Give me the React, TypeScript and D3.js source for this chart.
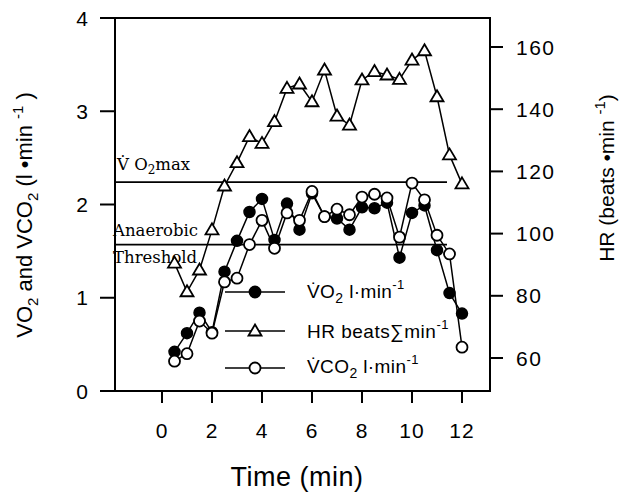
import React from 'react';
import * as d3 from 'd3';

const time = [0.5, 1, 1.5, 2, 2.5, 3, 3.5, 4, 4.5, 5, 5.5, 6, 6.5, 7, 7.5, 8, 8.5, 9, 9.5, 10, 10.5, 11, 11.5, 12];
const vo2 = [0.42, 0.62, 0.84, 0.63, 1.28, 1.61, 1.92, 2.06, 1.62, 2.01, 1.73, 2.12, 1.87, 1.85, 1.73, 1.97, 1.96, 2.02, 1.43, 1.91, 1.99, 1.51, 1.05, 0.83];
const vco2 = [0.32, 0.40, 0.75, 0.62, 1.17, 1.21, 1.57, 1.83, 1.53, 1.91, 1.83, 2.14, 1.87, 1.95, 1.89, 2.08, 2.11, 2.07, 1.65, 2.23, 2.05, 1.67, 1.47, 0.47];
const hr = [90.5, 81.3, 88.3, 101.2, 115.3, 122.8, 131.2, 129, 136, 146.7, 148.1, 142.4, 152.6, 137.8, 134.9, 149.4, 152.1, 151, 149.6, 155.8, 158.8, 144, 125.3, 116];

const xTicks = [0, 2, 4, 6, 8, 10, 12];
const leftTicks = [0, 1, 2, 3, 4];
const rightTicks = [60, 80, 100, 120, 140, 160];

const vo2max = 2.24;
const threshold = 1.57;
const refLineEnd = 11.4;

const sans = '"Liberation Sans", Arial, Helvetica, sans-serif';
const serif = '"DejaVu Serif", "Liberation Serif", serif';

const App = () => {
  // plot frame
  const frame = {left: 115, right: 490, top: 18, bottom: 391};

  const x = d3.scaleLinear().domain([0, 12]).range([162, 462]);
  const yL = d3.scaleLinear().domain([0, 4]).range([391, 18]);
  const yR = d3.scaleLinear().domain([60, 160]).range([358, 47]);

  const lineL = (vals: number[]) => d3.line<number>()
    .x((_, i) => x(time[i]))
    .y(d => yL(d))(vals) as string;
  const hrLine = d3.line<number>()
    .x((_, i) => x(time[i]))
    .y(d => yR(d))(hr) as string;

  const tri = 'M0,-6.5L6.5,4.5L-6.5,4.5Z';
  const r = 5.5;

  const legendRows = [
    {y: 292, kind: 'filled'},
    {y: 331, kind: 'tri'},
    {y: 368, kind: 'open'},
  ];

  return (
    <svg width={619} height={495} style={{position: 'absolute', left: 0, top: 0, background: '#fff'}}>
      {/* frame */}
      <rect x={frame.left} y={frame.top} width={frame.right - frame.left} height={frame.bottom - frame.top}
        fill="none" stroke="#000" strokeWidth={2} />

      {/* left axis */}
      {leftTicks.map(t => (
        <g key={'l' + t}>
          <line x1={100} x2={frame.left} y1={yL(t)} y2={yL(t)} stroke="#000" strokeWidth={2} />
          <text x={89} y={yL(t)} dy="0.36em" textAnchor="end" fontFamily={sans} fontSize={21} letterSpacing={1}>{t}</text>
        </g>
      ))}

      {/* right axis */}
      {rightTicks.map(t => (
        <g key={'r' + t}>
          <line x1={frame.right} x2={503} y1={yR(t)} y2={yR(t)} stroke="#000" strokeWidth={2} />
          <text x={516} y={yR(t)} dy="0.36em" textAnchor="start" fontFamily={sans} fontSize={21} letterSpacing={1.5}>{t}</text>
        </g>
      ))}

      {/* x axis */}
      {xTicks.map(t => (
        <g key={'x' + t}>
          <line x1={x(t)} x2={x(t)} y1={frame.bottom} y2={403} stroke="#000" strokeWidth={2} />
          <text x={x(t)} y={438} textAnchor="middle" fontFamily={sans} fontSize={21} letterSpacing={1}>{t}</text>
        </g>
      ))}

      <text x={297} y={486} textAnchor="middle" fontFamily={sans} fontSize={27} letterSpacing={0.5}>Time (min)</text>

      {/* axis titles */}
      <text transform="translate(32,215) rotate(-90)" textAnchor="middle" fontFamily={sans} fontSize={22}>
        VO<tspan fontSize={15} dy={6}>2</tspan><tspan dy={-6}> and VCO</tspan><tspan fontSize={15} dy={6}>2</tspan>
        <tspan dy={-6}> (l •min </tspan><tspan fontSize={15} dy={-9}>-1</tspan><tspan dy={9}> )</tspan>
      </text>
      <text transform="translate(614,178) rotate(-90)" textAnchor="middle" fontFamily={sans} fontSize={21}>
        HR (beats •min <tspan fontSize={15} dy={-9}>-1</tspan><tspan dy={9}>)</tspan>
      </text>

      {/* reference lines */}
      <line x1={frame.left} x2={x(refLineEnd)} y1={yL(vo2max)} y2={yL(vo2max)} stroke="#000" strokeWidth={1.8} />
      <line x1={frame.left} x2={x(refLineEnd)} y1={yL(threshold)} y2={yL(threshold)} stroke="#000" strokeWidth={1.8} />

      <text x={117} y={170} fontFamily={serif} fontSize={16.5}>
        V̇ O<tspan fontSize={12} dy={4}>2</tspan><tspan dy={-4}>max</tspan>
      </text>
      <text x={113} y={236} fontFamily={serif} fontSize={16.5}>Anaerobic</text>
      <text x={113} y={263} fontFamily={serif} fontSize={16.5}>Threshold</text>

      {/* series lines */}
      <path d={lineL(vo2)} fill="none" stroke="#000" strokeWidth={1.5} />
      <path d={hrLine} fill="none" stroke="#000" strokeWidth={1.5} />
      <path d={lineL(vco2)} fill="none" stroke="#000" strokeWidth={1.5} />

      {/* markers */}
      {vo2.map((d, i) => (
        <circle key={'f' + i} cx={x(time[i])} cy={yL(d)} r={r} fill="#000" stroke="#000" strokeWidth={1.5} />
      ))}
      {hr.map((d, i) => (
        <path key={'t' + i} d={tri} transform={`translate(${x(time[i])},${yR(d)})`} fill="#fff" stroke="#000" strokeWidth={1.8} />
      ))}
      {vco2.map((d, i) => (
        <circle key={'o' + i} cx={x(time[i])} cy={yL(d)} r={r} fill="#fff" stroke="#000" strokeWidth={1.8} />
      ))}

      {/* legend */}
      {legendRows.map(row => (
        <g key={row.kind}>
          <line x1={225} x2={285} y1={row.y} y2={row.y} stroke="#000" strokeWidth={1.5} />
          {row.kind === 'tri'
            ? <path d={tri} transform={`translate(255,${row.y})`} fill="#fff" stroke="#000" strokeWidth={1.8} />
            : <circle cx={255} cy={row.y} r={r} fill={row.kind === 'filled' ? '#000' : '#fff'} stroke="#000" strokeWidth={1.8} />}
        </g>
      ))}
      <text x={307} y={298} fontFamily={sans} fontSize={19} letterSpacing={0.4}>
        V̇O<tspan fontSize={14} dy={5}>2</tspan><tspan dy={-5}> l·min</tspan><tspan fontSize={13} dy={-9}>-1</tspan>
      </text>
      <text x={307} y={338} fontFamily={sans} fontSize={19} letterSpacing={0.5}>
        HR beats∑min<tspan fontSize={13} dy={-9}>-1</tspan>
      </text>
      <text x={307} y={373} fontFamily={sans} fontSize={19} letterSpacing={0.4}>
        V̇CO<tspan fontSize={14} dy={5}>2</tspan><tspan dy={-5}> l·min</tspan><tspan fontSize={13} dy={-9}>-1</tspan>
      </text>
    </svg>
  );
};

export default App;
